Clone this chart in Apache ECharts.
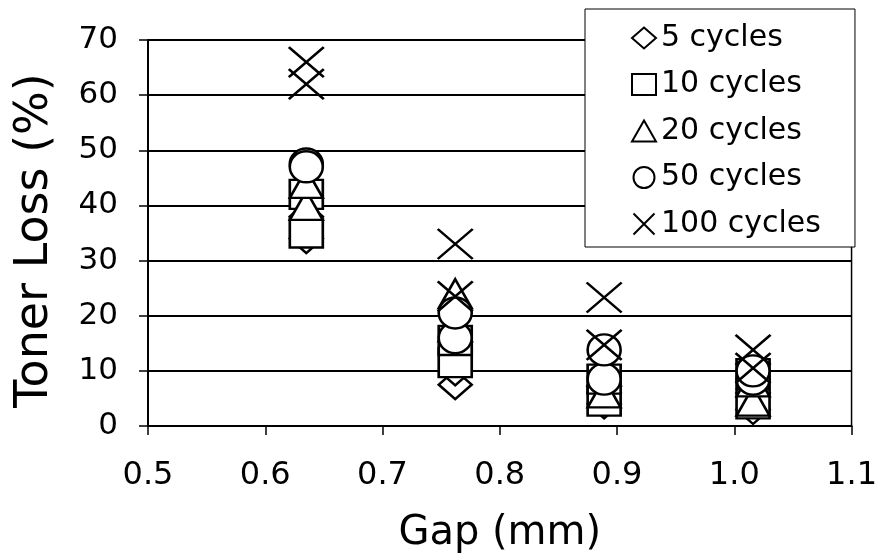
<!DOCTYPE html>
<html>
<head>
<meta charset="utf-8">
<script src="https://cdn.jsdelivr.net/npm/echarts@6/dist/echarts.min.js"></script>
<style>
html,body{margin:0;padding:0;background:#fff;}
#chart{width:880px;height:559px;}
</style>
</head>
<body>
<div id="chart"></div>
<script>
// Gap positions (mm)
var gaps = [0.635, 0.762, 0.889, 1.016];
// Series names
var seriesNames = ['5 cycles', '10 cycles', '20 cycles', '50 cycles', '100 cycles'];
// Toner loss (%) - two replicate readings per gap
var cycles5_a = [34, 7.5, 4, 3];
var cycles5_b = [38, 10, 6, 6];
var cycles10_a = [35, 11.5, 4.5, 4];
var cycles10_b = [42, 15.5, 8.5, 9.5];
var cycles20_a = [40, 18, 6, 4.5];
var cycles20_b = [44, 24, 10, 8];
var cycles50_a = [47.5, 16, 8.5, 8.5];
var cycles50_b = [47, 20.5, 13.8, 10];
var cycles100_a = [62, 23.5, 14.7, 10.5];
var cycles100_b = [66, 33, 23.3, 13.8];
// Axis ticks
var xTicks = [0.5, 0.6, 0.7, 0.8, 0.9, 1.0, 1.1];
var yTicks = [0, 10, 20, 30, 40, 50, 60, 70];

function pts(a, b) {
  var out = [];
  for (var i = 0; i < gaps.length; i++) {
    out.push([gaps[i], a[i]]);
    out.push([gaps[i], b[i]]);
  }
  return out;
}
var seriesData = [
  pts(cycles5_a, cycles5_b),
  pts(cycles10_a, cycles10_b),
  pts(cycles20_a, cycles20_b),
  pts(cycles50_a, cycles50_b),
  pts(cycles100_a, cycles100_b)
];
var symbols = ['diamond', 'rect', 'triangle', 'circle', 'path://M0,0L10,10M10,0L0,10'];
var sizes = [[33, 29], [33, 29], [33, 29], [33, 31], [35, 30]];

var FONT = '"DejaVu Sans", "Liberation Sans", Arial, sans-serif';
var series = seriesNames.map(function (n, i) {
  return {
    name: n,
    type: 'scatter',
    data: seriesData[i],
    symbol: symbols[i],
    symbolSize: sizes[i],
    itemStyle: { color: '#fff', borderColor: '#000', borderWidth: 2.5, opacity: 1 },
    emphasis: { disabled: true },
    z: 2 + i
  };
});

var chart = echarts.init(document.getElementById('chart'), null, { renderer: 'canvas' });
chart.setOption({
  animation: false,
  backgroundColor: '#fff',
  textStyle: { fontFamily: FONT, color: '#000' },
  grid: { left: 148, right: 27, top: 40, bottom: 129, show: true, borderColor: '#000', borderWidth: 1.5, backgroundColor: 'transparent' },
  xAxis: {
    type: 'value', min: 0.5, max: 1.1, interval: 0.1,
    name: 'Gap (mm)', nameLocation: 'middle', nameGap: 88,
    nameTextStyle: { fontSize: 40, fontFamily: FONT, color: '#000' },
    axisLine: { show: true, onZero: false, lineStyle: { color: '#000', width: 2 } },
    axisTick: { show: true, inside: false, length: 9, lineStyle: { color: '#000', width: 1.5 } },
    axisLabel: { fontSize: 32, fontFamily: FONT, color: '#000', margin: 34,
      formatter: function (v) { return v.toFixed(1); } },
    splitLine: { show: false }
  },
  yAxis: {
    type: 'value', min: 0, max: 70, interval: 10,
    name: 'Toner Loss (%)', nameLocation: 'middle', nameGap: 90, nameRotate: 90,
    nameTextStyle: { fontSize: 46, fontFamily: FONT, color: '#000', padding: [0, 15, 0, 0] },
    axisLine: { show: true, lineStyle: { color: '#000', width: 2 } },
    axisTick: { show: true, inside: false, length: 9, lineStyle: { color: '#000', width: 1.5 } },
    axisLabel: { fontSize: 31, fontFamily: FONT, color: '#000', margin: 30 },
    splitLine: { show: true, lineStyle: { color: '#000', width: 2 } }
  },
  legend: {
    data: seriesNames,
    orient: 'vertical',
    left: 585, top: 9,
    backgroundColor: '#fff',
    borderColor: '#000', borderWidth: 1,
    padding: [14, 34, 8, 46],
    itemWidth: 24, itemHeight: 21,
    itemGap: 16.5,
    textStyle: { fontSize: 30, fontFamily: FONT, color: '#000', lineHeight: 30 },
    itemStyle: { color: '#fff', borderColor: '#000', borderWidth: 2 },
    selectedMode: false,
    z: 20
  },
  series: series
});
</script>
</body>
</html>
